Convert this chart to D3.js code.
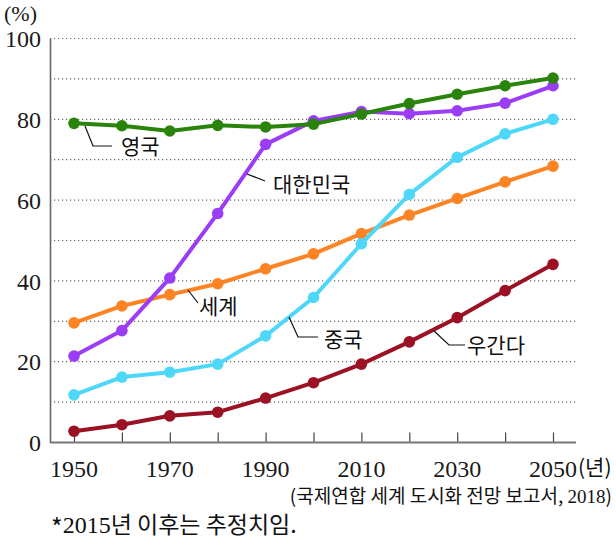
<!DOCTYPE html>
<html><head><meta charset="utf-8">
<script src="https://cdn.jsdelivr.net/npm/d3@7/dist/d3.min.js"></script>
<style>
body{margin:0;background:#fff;}
svg{display:block;}
</style></head>
<body>
<svg id="c" width="616" height="546"></svg>
<script>
const years = [1950,1960,1970,1980,1990,2000,2010,2020,2030,2040,2050];
const yearLabels = [1950,1970,1990,2010,2030,2050];
const yTicks = [0,20,40,60,80,100];
const seriesNames = ["영국","대한민국","중국","세계","우간다"];
const seriesColors = ["#2a840c","#9b3cf6","#4fd7fa","#fc8424","#9a1224"];
const ukValues      = [79.0,78.4,77.1,78.5,78.1,78.8,81.3,83.9,86.2,88.3,90.2];
const koreaValues   = [21.4,27.7,40.7,56.7,73.8,79.6,81.9,81.4,82.1,84.0,88.3];
const chinaValues   = [11.8,16.2,17.4,19.4,26.4,35.9,49.2,61.4,70.6,76.4,80.0];
const worldValues   = [29.6,33.8,36.6,39.3,43.0,46.7,51.7,56.3,60.4,64.5,68.4];
const ugandaValues  = [2.8,4.4,6.6,7.5,11.0,14.8,19.4,24.9,30.9,37.6,44.1];
const allValues = [ukValues,koreaValues,chinaValues,worldValues,ugandaValues];

const SERIF = '"Liberation Serif"';
const KR = '"Noto Sans CJK KR"';

const svg = d3.select("#c");
const x = d3.scaleLinear().domain([1950,2050]).range([74,553]);
const y = d3.scaleLinear().domain([0,100]).range([442.5,38.5]);
const left = 50, right = 576;

function serif(sel, size){ return sel.style("font-family",SERIF).style("font-size",size+"px").attr("fill","#1a1a1a"); }
function kr(sel, size){ return sel.style("font-family",KR).style("font-size",size+"px").attr("fill","#111"); }

// grid lines every 10
svg.append("g").selectAll("line").data(d3.range(10,101,10)).join("line")
  .attr("x1",left).attr("x2",right)
  .attr("y1",d=>y(d)).attr("y2",d=>y(d))
  .attr("stroke","#666").attr("stroke-width",1.2)
  .attr("stroke-dasharray","1.2,2.8");

// y axis
const yAxis = d3.axisLeft(y).tickValues(yTicks).tickSize(0).tickPadding(9).tickFormat(d3.format("d"));
const ya = svg.append("g").attr("transform",`translate(${left},0)`).call(yAxis);
ya.attr("font-family",null).attr("font-size",null);
ya.select(".domain").attr("stroke","#666").attr("stroke-width",1.6);
serif(ya.selectAll("text"),24).attr("dy","0.34em");

// x axis
const xAxis = d3.axisTop(x).tickValues(years).tickSize(10).tickFormat("");
const xa = svg.append("g").attr("transform",`translate(0,${y(0)})`).call(xAxis);
xa.select(".domain").remove();
xa.selectAll(".tick line").attr("stroke","#444").attr("stroke-width",1.2);
svg.append("line").attr("x1",left).attr("x2",right).attr("y1",y(0)).attr("y2",y(0))
  .attr("stroke","#777").attr("stroke-width",2);
serif(svg.selectAll("text.xl").data(yearLabels).join("text").attr("class","xl")
  .attr("x",d=>x(d)).attr("y",477).attr("text-anchor","middle"),24).text(d=>d);
kr(svg.append("text").attr("x",x(2050)+25).attr("y",475),21).text("(년)");

serif(svg.append("text").attr("x",4).attr("y",21),22).text("(%)");

// lines
const line = d3.line().x((d,i)=>x(years[i])).y(d=>y(d));
const order = [4,3,2,1,0];
order.forEach(k=>{
  const s = svg.append("g");
  s.append("path").datum(allValues[k]).attr("d",line).attr("fill","none")
    .attr("stroke",seriesColors[k]).attr("stroke-width",4).attr("stroke-linejoin","round");
  s.selectAll("circle").data(allValues[k]).join("circle")
    .attr("cx",(d,i)=>x(years[i])).attr("cy",d=>y(d)).attr("r",5.8)
    .attr("fill",seriesColors[k]);
});

// labels with leaders
const leaders = [
  {t:seriesNames[0], pts:[[85,126],[93,146],[112,146]], tx:121, ty:154},
  {t:seriesNames[1], pts:[[247,174],[265,181]], tx:273, ty:192},
  {t:seriesNames[3], pts:[[188,290],[198,303]], tx:199, ty:314},
  {t:seriesNames[2], pts:[[289,317],[298,337],[318,337]], tx:324, ty:347},
  {t:seriesNames[4], pts:[[434,331],[449,345],[465,345]], tx:467, ty:353}
];
leaders.forEach(l=>{
  svg.append("path").attr("d",d3.line()(l.pts)).attr("fill","none")
    .attr("stroke","#111").attr("stroke-width",1.2);
  kr(svg.append("text").attr("x",l.tx).attr("y",l.ty),21).text(l.t);
});

const src = kr(svg.append("text").attr("x",612).attr("y",503).attr("text-anchor","end"),19);
src.append("tspan").text("(국제연합 세계 도시화 전망 보고서, ");
src.append("tspan").style("font-family",SERIF).text("2018");
src.append("tspan").text(")");

const fn = kr(svg.append("text").attr("x",51).attr("y",533),23);
fn.append("tspan").style("font-size","25px").attr("dy",4).text("*");
fn.append("tspan").style("font-family",SERIF).style("font-size","24px").attr("dy",-4).text("2015");
fn.append("tspan").text("년 이후는 추정치임.");
</script>
</body></html>
